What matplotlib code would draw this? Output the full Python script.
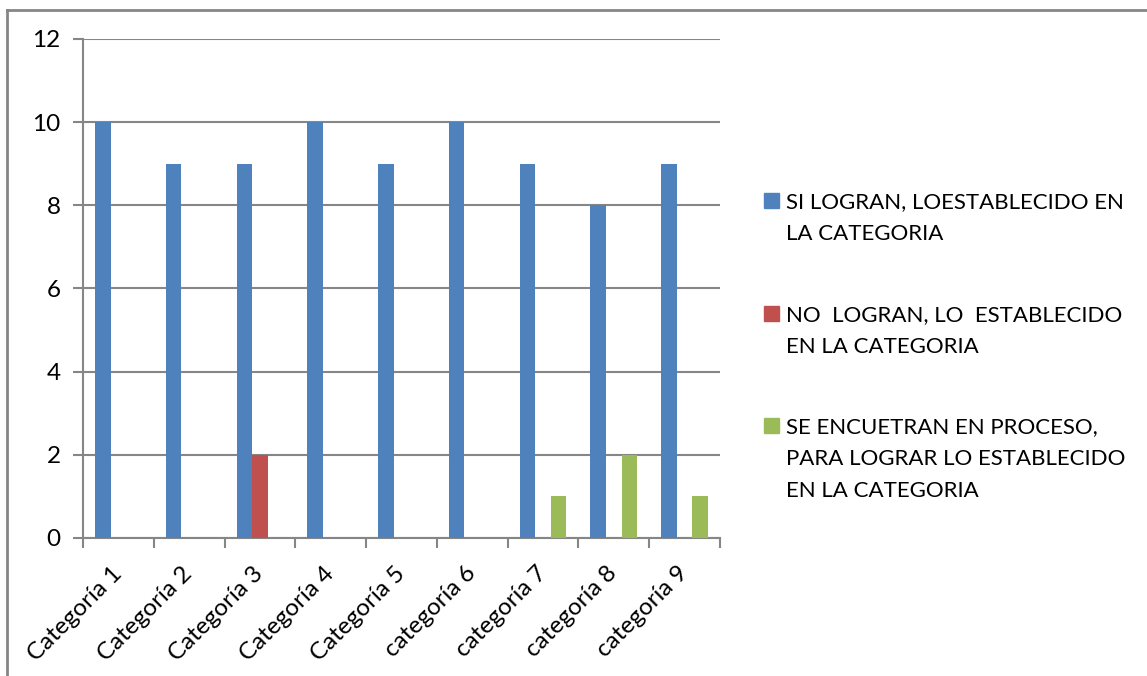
import matplotlib
matplotlib.use("Agg")
import matplotlib.pyplot as plt
from matplotlib.patches import Rectangle
from matplotlib.lines import Line2D
import numpy as np

categories = ["Categoría 1", "Categoría 2", "Categoría 3", "Categoría 4", "Categoría 5",
              "categoría 6", "categoría 7", "categoría 8", "categoría 9"]
si_logran = [10, 9, 9, 10, 9, 10, 9, 8, 9]
no_logran = [0, 0, 2, 0, 0, 0, 0, 0, 0]
en_proceso = [0, 0, 0, 0, 0, 0, 1, 2, 1]
series_labels = ["SI LOGRAN, LOESTABLECIDO EN\nLA CATEGORIA",
                 "NO  LOGRAN, LO  ESTABLECIDO\nEN LA CATEGORIA",
                 "SE ENCUETRAN EN PROCESO,\nPARA LOGRAR LO ESTABLECIDO\nEN LA CATEGORIA"]
colors = ["#4F81BD", "#C0504D", "#9BBB59"]
yticks = [0, 2, 4, 6, 8, 10, 12]

plt.rcParams['font.family'] = ['Lato', 'DejaVu Sans']

W, H = 1147, 676
fig = plt.figure(figsize=(W / 100, H / 100), dpi=100)
ax = fig.add_axes([83 / W, 1 - 538 / H, (720 - 83) / W, (538 - 39) / H])

grey = "#868686"
x = np.arange(len(categories))
bw = 0.22
for i, (vals, c) in enumerate(zip([si_logran, no_logran, en_proceso], colors)):
    ax.bar(x + (i - 1) * bw, vals, width=bw, color=c, zorder=3)

ax.set_xlim(-0.5, len(categories) - 0.5)
ax.set_ylim(0, 12)
ax.set_yticks(yticks)
ax.set_yticklabels([str(v) for v in yticks], fontsize=17.5)
ax.yaxis.grid(True, color=grey, linewidth=1.5, zorder=0)
ax.set_axisbelow(True)

ax.set_xticks(np.arange(len(categories) + 1) - 0.5)
ax.set_xticklabels([])
ax.set_xticks(x, minor=True)
ax.set_xticklabels(categories, minor=True, rotation=45, ha='right', va='center',
                   rotation_mode='anchor', fontsize=17.5)
ax.tick_params(axis='x', which='minor', length=0, pad=23)
ax.tick_params(axis='x', which='major', length=7, width=1.5, color=grey)
ax.tick_params(axis='y', length=7, width=1.5, color=grey, pad=9)

for s in ['top', 'right']:
    ax.spines[s].set_visible(False)
for s in ['left', 'bottom']:
    ax.spines[s].set_color(grey)
    ax.spines[s].set_linewidth(1.5)

# legend (manual placement), one text per line
item_baselines = [208, 321, 433]
line_gap = 32
for lab, c, yb in zip(series_labels, colors, item_baselines):
    fig.patches.append(Rectangle((764 / W, 1 - yb / H), 15 / W, 15 / H,
                                 transform=fig.transFigure, color=c))
    for k, line in enumerate(lab.split("\n")):
        fig.text(786 / W, 1 - (yb + k * line_gap) / H, line, fontsize=16,
                 va='baseline', ha='left', transform=fig.transFigure)

# outer border (top and left only visible)
fig.lines.append(Line2D([7 / W, 1.0], [1 - 10 / H, 1 - 10 / H], transform=fig.transFigure,
                        color=grey, linewidth=2))
fig.lines.append(Line2D([7 / W, 7 / W], [0.0, 1 - 10 / H], transform=fig.transFigure,
                        color=grey, linewidth=2))

fig.savefig("out.png", dpi=100)
